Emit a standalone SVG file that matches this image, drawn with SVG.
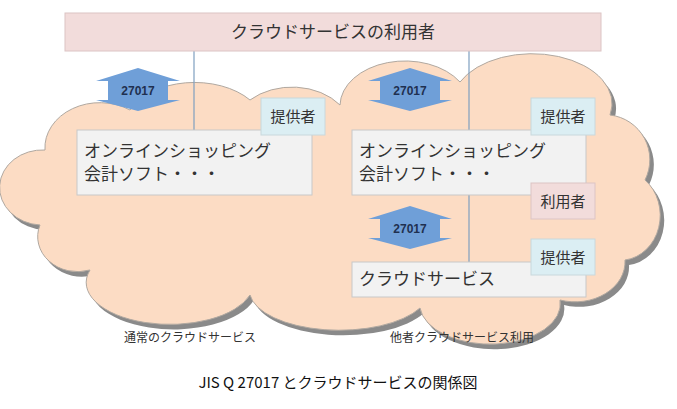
<svg xmlns="http://www.w3.org/2000/svg" width="677" height="409" viewBox="0 0 677 409">
<style>
text{font-family:"Noto Sans CJK JP","Liberation Sans",sans-serif;fill:#333}
.box{fill:#f2f2f2;stroke:#c8c8c8;stroke-width:1}
.prov{fill:#dbeef3;stroke:#c8d8dc}
.user{fill:#f2dcdb;stroke:#dcc4c4}
.ln{stroke:#7f9fc0;stroke-width:1.2;fill:none}
.arr{fill:#6f9fd8}
.t{font-size:17px}
.s{font-size:15px}
.n{font-family:"Liberation Sans",sans-serif;font-size:12px;font-weight:bold;fill:#1f3050}
</style>
<defs>
<path id="cloud" d="M40,225 A40,35 0 0 1 45,150 A55,45 0 0 1 130,110 A70,45 0 0 1 250,100 A60,45 0 0 1 340,105 A65,45 0 0 1 460,82 A80,50 0 0 1 610,115 A45,45 0 0 1 645,180 A40,45 0 0 1 625,260 A50,40 0 0 1 560,300 A70,40 0 0 1 420,308 A90,40 0 0 1 250,295 A80,40 0 0 1 90,270 A40,35 0 0 1 40,225 Z"/>
<path id="arrow" d="M0,0 L42,22 L31,22 L31,32 L42,32 L0,43 L-42,32 L-31,32 L-31,22 L-42,22 Z"/>
</defs>
<g id="cloud-shape">
<use href="#cloud" transform="translate(4,5)" fill="#8a8a8a"/>
<use href="#cloud" fill="#fcdcc4" stroke="#b0a8a0" stroke-width="1"/>
</g>
<g id="connectors">
<line class="ln" x1="194" y1="51" x2="194" y2="130"/>
<line class="ln" x1="469" y1="51" x2="469" y2="130"/>
<line class="ln" x1="469" y1="195" x2="469" y2="262"/>
</g>
<g id="arrow1"><path class="arr" d="M138,68 L180,81 L168,81 L168,100 L180,100 L138,111 L96,100 L108,100 L108,81 L96,81 Z"/><text class="n" x="138" y="95" text-anchor="middle">27017</text></g>
<g id="arrow2"><path class="arr" d="M410,68 L452,81 L440,81 L440,100 L452,100 L410,111 L368,100 L380,100 L380,81 L368,81 Z"/><text class="n" x="410" y="95" text-anchor="middle">27017</text></g>
<g id="arrow3"><path class="arr" d="M410,206 L452,219 L440,219 L440,238 L452,238 L410,249 L368,238 L380,238 L380,219 L368,219 Z"/><text class="n" x="410" y="233" text-anchor="middle">27017</text></g>
<g id="top"><rect x="65" y="13" width="536" height="38" fill="#f2dcdb" stroke="#dcc4c4"/><text class="t" x="333" y="38" text-anchor="middle">クラウドサービスの利用者</text></g>
<g id="left-box"><rect class="box" x="77" y="130" width="235" height="65"/><text class="t" x="84" y="157">オンラインショッピング</text><text class="t" x="84" y="180">会計ソフト・・・</text></g>
<g id="right-box"><rect class="box" x="352" y="130" width="234" height="65"/><text class="t" x="359" y="157">オンラインショッピング</text><text class="t" x="359" y="180">会計ソフト・・・</text></g>
<g id="cloud-box"><rect class="box" x="352" y="262" width="234" height="35"/><text class="t" x="359" y="285">クラウドサービス</text></g>
<g id="prov1"><rect class="prov" x="261" y="98" width="64" height="37"/><text class="s" x="293" y="122" text-anchor="middle">提供者</text></g>
<g id="prov2"><rect class="prov" x="531" y="98" width="64" height="37"/><text class="s" x="563" y="122" text-anchor="middle">提供者</text></g>
<g id="user1"><rect class="user" x="531" y="183" width="64" height="36"/><text class="s" x="563" y="207" text-anchor="middle">利用者</text></g>
<g id="prov3"><rect class="prov" x="531" y="239" width="64" height="36"/><text class="s" x="563" y="263" text-anchor="middle">提供者</text></g>
<text x="190" y="342" font-size="12" text-anchor="middle">通常のクラウドサービス</text>
<text x="462" y="342" font-size="12" text-anchor="middle">他者クラウドサービス利用</text>
<text x="338" y="388" font-size="15" text-anchor="middle" style="fill:#111">JIS Q 27017 とクラウドサービスの関係図</text>
</svg>
